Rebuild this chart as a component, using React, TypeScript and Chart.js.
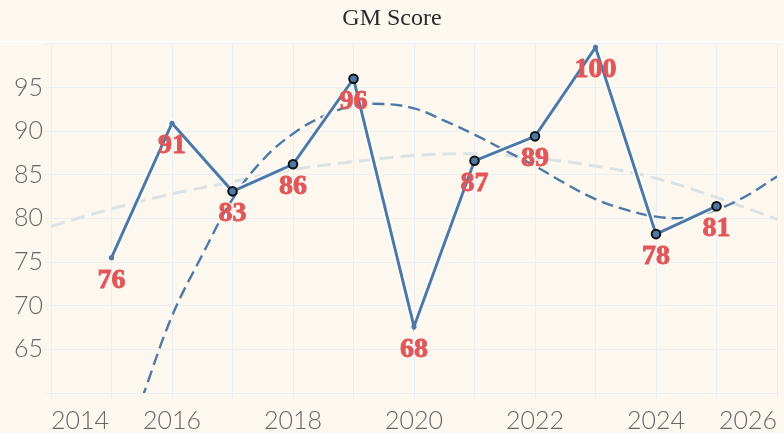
import { useEffect, useRef } from 'react';
import { Chart, registerables } from 'chart.js';

Chart.register(...registerables);

// ---- data ----
const years = [2015, 2016, 2017, 2018, 2019, 2020, 2021, 2022, 2023, 2024, 2025];
const gmScore = [75.5, 90.9, 83.1, 86.2, 96.0, 67.6, 86.6, 89.4, 99.6, 78.2, 81.4];
const markedYears = [2017, 2018, 2019, 2021, 2022, 2024, 2025];

const polyYears = [2015.5, 2016, 2016.5, 2017, 2017.5, 2018, 2018.5, 2019, 2019.5, 2020, 2020.5, 2021, 2021.5, 2022, 2022.5, 2023, 2023.5, 2024, 2024.5, 2025, 2025.5, 2026];
const polyTrend = [59.3, 68.8, 75.8, 82.2, 86.7, 89.7, 91.7, 92.9, 93.1, 92.6, 91.2, 89.6, 87.8, 86.0, 84.0, 82.2, 81.0, 80.2, 80.1, 81.0, 82.6, 84.8];

const fitYears = [2014, 2015, 2016, 2017, 2018, 2019, 2020, 2021, 2022, 2023, 2024, 2025, 2026];
const quadTrend = [79.1, 81.1, 82.8, 84.2, 85.6, 86.5, 87.2, 87.4, 86.9, 86.0, 84.6, 82.4, 79.9];

const xTickLabels = [2014, 2016, 2018, 2020, 2022, 2024, 2026];
const yTickLabels = [65, 70, 75, 80, 85, 90, 95];

const BG = '#fcf8f0';
const GRID = '#eceff2';
const BLUE = '#4e79a7';

export default function App() {
  const ref = useRef<HTMLCanvasElement | null>(null);

  useEffect(() => {
    document.body.style.margin = '0';
    const canvas = ref.current;
    if (!canvas) return;

    const bgPlugin = {
      id: 'bgPlugin',
      beforeDraw(chart: any) {
        const { ctx, width, height, chartArea } = chart;
        ctx.save();
        ctx.fillStyle = BG;
        ctx.fillRect(0, 0, width, height);
        ctx.fillStyle = '#ffffff';
        ctx.fillRect(0, chartArea.top - 3, width, 2);
        ctx.restore();
      },
    };

    const labelPlugin = {
      id: 'labelPlugin',
      afterDatasetsDraw(chart: any) {
        const { ctx } = chart;
        const meta = chart.getDatasetMeta(0);
        ctx.save();
        ctx.font = 'bold 28px "Liberation Serif", "Times New Roman", serif';
        ctx.fillStyle = '#e15759';
        ctx.strokeStyle = '#e15759';
        ctx.lineWidth = 0.9;
        ctx.lineJoin = 'round';
        ctx.textAlign = 'center';
        ctx.textBaseline = 'alphabetic';
        meta.data.forEach((pt: any, i: number) => {
          const txt = String(Math.round(gmScore[i]));
          ctx.fillText(txt, pt.x, pt.y + 30);
          ctx.strokeText(txt, pt.x, pt.y + 30);
        });
        ctx.restore();
      },
    };

    const mainData = years.map((x, i) => ({ x, y: gmScore[i] }));
    const isMarked = (ctx: any) => {
      const raw = ctx.raw as { x: number } | undefined;
      return raw ? markedYears.includes(raw.x) : false;
    };

    const tickFont = { family: 'Lato', size: 25, weight: '300' };

    const chart = new Chart(canvas, {
      type: 'line',
      data: {
        datasets: [
          {
            label: 'GM Score',
            data: mainData,
            borderColor: BLUE,
            borderWidth: 3,
            tension: 0,
            pointRadius: (ctx: any) => (isMarked(ctx) ? 4.3 : 2.6),
            pointBackgroundColor: BLUE,
            pointBorderColor: '#111111',
            pointBorderWidth: (ctx: any) => (isMarked(ctx) ? 2 : 0),
            order: 1,
          },
          {
            label: 'halo',
            data: mainData,
            borderColor: '#ffffff',
            borderWidth: 6,
            tension: 0,
            pointRadius: 0,
            order: 2,
          },
          {
            label: 'Poly trend',
            data: polyYears.map((x, i) => ({ x, y: polyTrend[i] })),
            borderColor: BLUE,
            borderWidth: 2.4,
            borderDash: [12, 6],
            tension: 0.4,
            pointRadius: 0,
            order: 3,
          },
          {
            label: 'Quad trend',
            data: fitYears.map((x, i) => ({ x, y: quadTrend[i] })),
            borderColor: '#dbe2e3',
            borderWidth: 3,
            borderDash: [14, 7],
            tension: 0.4,
            pointRadius: 0,
            order: 4,
          },
        ],
      },
      options: {
        animation: false,
        responsive: true,
        maintainAspectRatio: false,
        layout: { padding: { left: 0, right: 0, top: 0, bottom: 0 } },
        plugins: {
          legend: { display: false },
          tooltip: { enabled: false },
          title: {
            display: true,
            text: 'GM Score',
            color: '#2b2b2b',
            font: { family: '"Liberation Serif", "Times New Roman", serif', size: 24, weight: 'normal' },
            padding: { top: 4, bottom: 11 },
          },
        },
        scales: {
          x: {
            type: 'linear',
            min: 2014,
            max: 2026,
            border: { display: false },
            grid: { color: GRID, tickLength: 6 },
            ticks: {
              stepSize: 1,
              autoSkip: false,
              maxRotation: 0,
              align: 'inner',
              padding: 7,
              color: '#666666',
              font: tickFont,
              callback: (v: any) => (xTickLabels.includes(Number(v)) ? String(v) : ''),
            },
            afterFit: (s: any) => {
              s.height = 40;
            },
          },
          y: {
            min: 60,
            max: 100,
            border: { display: false },
            grid: { color: GRID, tickLength: 6 },
            ticks: {
              stepSize: 5,
              padding: 2,
              color: '#666666',
              font: tickFont,
              callback: (v: any) => (yTickLabels.includes(Number(v)) ? String(v) : ''),
            },
            afterFit: (s: any) => {
              s.width = 51;
            },
          },
        },
      },
      plugins: [bgPlugin, labelPlugin],
    } as any);

    return () => chart.destroy();
  }, []);

  return (
    <div style={{ width: 784, height: 433, position: 'relative', background: BG }}>
      <canvas ref={ref} />
    </div>
  );
}
